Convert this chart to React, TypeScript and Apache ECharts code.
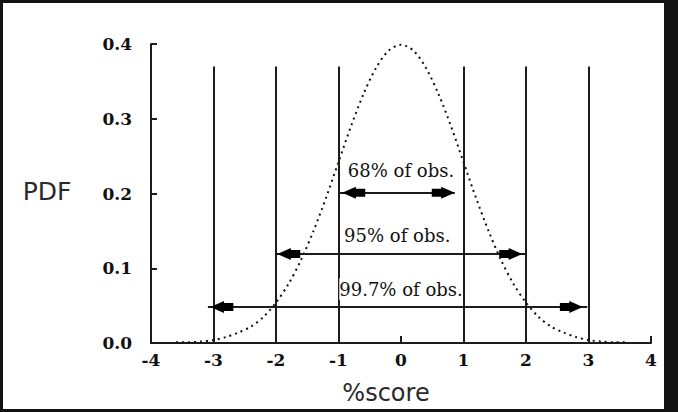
import React, { useEffect, useRef } from "react";
import * as echarts from "echarts";

// Standard-deviation positions of the vertical reference lines
const sdLines = [-3, -2, -1, 1, 2, 3];
const sdLineTop = 0.37;

// Dotted PDF curve
const curveX = [
  -3.6, -3.4, -3.2, -3.0, -2.8, -2.6, -2.4, -2.2, -2.0, -1.8, -1.6, -1.4, -1.2,
  -1.0, -0.8, -0.6, -0.4, -0.2, 0.0, 0.2, 0.4, 0.6, 0.8, 1.0, 1.2, 1.4, 1.6,
  1.8, 2.0, 2.2, 2.4, 2.6, 2.8, 3.0, 3.2, 3.4, 3.6,
];
const curveY = [
  0.001, 0.001, 0.002, 0.004, 0.008, 0.014, 0.022, 0.035, 0.054, 0.079, 0.111,
  0.15, 0.194, 0.242, 0.29, 0.333, 0.368, 0.391, 0.399, 0.391, 0.368, 0.333,
  0.29, 0.242, 0.194, 0.15, 0.111, 0.079, 0.054, 0.035, 0.022, 0.014, 0.008,
  0.004, 0.002, 0.001, 0.001,
];

// Range arrows
const arrowLabels = ["68% of obs.", "95% of obs.", "99.7% of obs."];
const arrowY = [0.201, 0.119, 0.048];
const arrowLineFrom = [-1.0, -2.0, -3.09];
const arrowLineTo = [0.86, 2.0, 2.98];
const arrowTipLeft = [-0.94, -1.98, -3.05];
const arrowTipRight = [0.86, 1.94, 2.91];
const labelX = [0.0, -0.06, 0.0];
const labelY = [0.231, 0.144, 0.072];

// Axis ticks
const xMin = -4;
const xMax = 4;
const xStep = 1;
const yMin = 0;
const yMax = 0.4;
const yStep = 0.1;

const INK = "#1c1c1c";
const ARROW_W = 23;
const ARROW_H = 12;
const LEFT_HEAD = "path://M0,6 L13,0 L13,2 L22,2 L22,10 L13,10 L13,12 Z";
const RIGHT_HEAD = "path://M22,6 L9,0 L9,2 L0,2 L0,10 L9,10 L9,12 Z";

export default function App() {
  const ref = useRef<HTMLDivElement>(null);

  useEffect(() => {
    document.body.style.margin = "0";
    if (!ref.current) return;
    const chart = echarts.init(ref.current, null, { renderer: "svg" });

    const tickFont = {
      fontFamily: "DejaVu Serif",
      fontWeight: "bold" as const,
      fontSize: 17,
      color: "#111",
    };

    const option: any = {
      animation: false,
      backgroundColor: "#ffffff",
      grid: { left: 148, top: 41, right: 13, bottom: 66, containLabel: false },
      xAxis: {
        type: "value",
        min: xMin,
        max: xMax,
        interval: xStep,
        axisLine: { show: true, onZero: false, lineStyle: { color: INK, width: 2 } },
        axisTick: { show: true, inside: true, length: 7, lineStyle: { color: INK, width: 2 } },
        axisLabel: { ...tickFont, margin: 8, showMinLabel: true, showMaxLabel: true },
        splitLine: { show: false },
      },
      yAxis: {
        type: "value",
        min: yMin,
        max: yMax,
        interval: yStep,
        axisLine: { show: true, onZero: false, lineStyle: { color: INK, width: 2 } },
        axisTick: { show: true, inside: true, length: 6, lineStyle: { color: INK, width: 2 } },
        axisLabel: {
          ...tickFont,
          margin: 19,
          showMinLabel: true,
          showMaxLabel: true,
          formatter: (v: number) => v.toFixed(1),
        },
        splitLine: { show: false },
      },
      graphic: [
        {
          type: "text",
          x: 44,
          y: 188,
          style: {
            text: "PDF",
            fontFamily: "DejaVu Sans",
            fontSize: 25,
            fill: "#2a2a2a",
            align: "center",
            verticalAlign: "middle",
          },
        },
        {
          type: "text",
          x: 383,
          y: 390,
          style: {
            text: "%score",
            fontFamily: "DejaVu Sans",
            fontSize: 24,
            fill: "#2a2a2a",
            align: "center",
            verticalAlign: "middle",
          },
        },
      ],
      series: [
        {
          name: "guides",
          type: "line",
          data: [],
          z: 3,
          markLine: {
            silent: true,
            symbol: ["none", "none"],
            label: { show: false },
            lineStyle: { color: INK, width: 2, type: "solid" },
            data: [
              ...sdLines.map((x) => [
                { coord: [x, 0] },
                { coord: [x, sdLineTop] },
              ]),
              ...arrowY.map((y, i) => [
                { coord: [arrowLineFrom[i], y] },
                { coord: [arrowLineTo[i], y] },
              ]),
            ],
          },
          markPoint: {
            silent: true,
            data: [
              ...arrowY.map((y, i) => ({
                coord: [arrowTipLeft[i], y],
                symbol: LEFT_HEAD,
                symbolSize: [ARROW_W, ARROW_H],
                symbolOffset: [ARROW_W / 2, 0],
                symbolKeepAspect: false,
                itemStyle: { color: "#000" },
                label: { show: false },
              })),
              ...arrowY.map((y, i) => ({
                coord: [arrowTipRight[i], y],
                symbol: RIGHT_HEAD,
                symbolSize: [ARROW_W, ARROW_H],
                symbolOffset: [-ARROW_W / 2, 0],
                symbolKeepAspect: false,
                itemStyle: { color: "#000" },
                label: { show: false },
              })),
            ],
          },
        },
        {
          name: "PDF",
          type: "line",
          data: curveX.map((x, i) => [x, curveY[i]]),
          showSymbol: false,
          symbol: "none",
          smooth: 0.3,
          z: 4,
          lineStyle: { color: "#111", width: 2, type: [2, 4] },
        },
        {
          name: "labels",
          type: "line",
          data: [],
          z: 6,
          markPoint: {
            silent: true,
            z: 10,
            symbol: "circle",
            symbolSize: 0,
            data: arrowLabels.map((t, i) => ({
              coord: [labelX[i], labelY[i]],
              value: t,
              label: {
                show: true,
                position: "inside",
                formatter: t,
                fontFamily: "DejaVu Serif",
                fontSize: 18,
                color: "#111",
                backgroundColor: i === 2 ? "#ffffff" : "transparent",
                padding: i === 2 ? [2, 0] : 0,
              },
            })),
          },
        },
      ],
    };

    chart.setOption(option);
    return () => chart.dispose();
  }, []);

  return (
    <div
      style={{
        position: "relative",
        width: 678,
        height: 412,
        background: "#131313",
        overflow: "hidden",
      }}
    >
      <div
        ref={ref}
        style={{ position: "absolute", left: 3, top: 3, width: 661, height: 406, background: "#fff" }}
      />
    </div>
  );
}
